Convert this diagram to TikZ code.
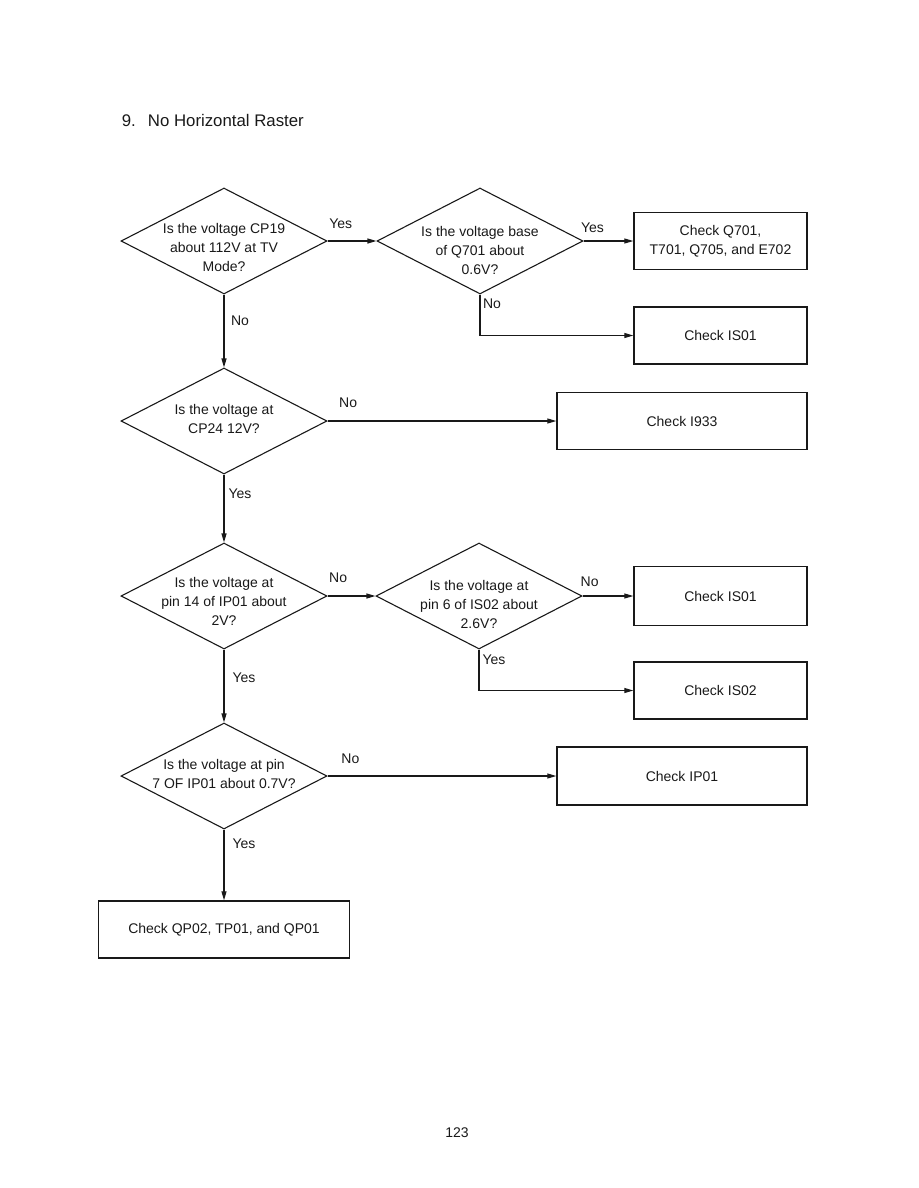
\documentclass[tikz,border=0pt]{standalone}
\usepackage{fontspec}
\setmainfont{Liberation Sans}
\usetikzlibrary{positioning,arrows.meta,shapes.geometric,calc}
\definecolor{inkgray}{RGB}{25,25,25}

\begin{document}
\begin{tikzpicture}[x=1pt,y=-1pt,line width=1.1pt,draw=inkgray,text=inkgray,
    font=\fontsize{14}{19}\selectfont,
    decision/.style={draw,diamond,inner sep=0pt,minimum width=206pt,minimum height=106pt},
    qtext/.style={align=center,text=inkgray},
    checkbox/.style={draw,rectangle,line width=1.4pt,inner sep=0pt,minimum height=57pt,align=center},
    flow/.style={-{Triangle[length=9pt,width=5pt]}},
    ans/.style={font=\fontsize{14}{16}\selectfont}]
\useasboundingbox (0,0) rectangle (918,1188);

\node[anchor=base west,font=\fontsize{16.8}{19}\selectfont] (title) at (118,127)
    {9.\hspace{12pt}No Horizontal Raster};

% questions
\node[decision,label={[qtext,yshift=-6pt]center:{Is the voltage CP19\\about 112V at TV\\Mode?}}] (d1) at (224,241) {};
\node[decision,label={[qtext,yshift=-9pt]center:{Is the voltage base\\of Q701 about\\0.6V?}}] (d2) at (480,241) {};
\node[decision,label={[qtext,yshift=2.5pt]center:{Is the voltage at\\CP24 12V?}}] (d3) at (224,421) {};
\node[decision,label={[qtext,yshift=-5pt]center:{Is the voltage at\\pin 14 of IP01 about\\2V?}}] (d4) at (224,596) {};
\node[decision,label={[qtext,yshift=-8pt]center:{Is the voltage at\\pin 6 of IS02 about\\2.6V?}}] (d5) at (479,596) {};
\node[decision,label={[qtext,yshift=2.5pt]center:{Is the voltage at pin\\7 OF IP01 about 0.7V?}}] (d6) at (224,776) {};

% checks
\node[checkbox,minimum width=173pt] (ca) at (720.5,241) {Check Q701,\\T701, Q705, and E702};
\node[checkbox,minimum width=173pt] (cb) at (720.5,335.5) {Check IS01};
\node[checkbox,minimum width=250pt] (cc) at (682,421) {Check I933};
\node[checkbox,minimum width=173pt,minimum height=59pt] (cd) at (720.5,596) {Check IS01};
\node[checkbox,minimum width=173pt] (ce) at (720.5,690.5) {Check IS02};
\node[checkbox,minimum width=250pt,minimum height=58pt] (cf) at (682,776) {Check IP01};
\node[checkbox,minimum width=251pt] (cg) at (224,929.5) {Check QP02, TP01, and QP01};

% flow
\draw[flow] (d1.east) -- node[ans,pos=0.27,yshift=17pt] {Yes} (d2.west);
\draw[flow] (d2.east) -- node[ans,pos=0.18,yshift=13pt] {Yes} (ca.west);
\draw[flow] (d2.south) |- node[ans,pos=0.115,xshift=12pt] {No} (cb.west);
\draw[flow] (d1.south) -- node[ans,pos=0.36,xshift=16pt] {No} (d3.north);
\draw[flow] (d3.east) -- node[ans,pos=0.09,yshift=18pt] {No} (cc.west);
\draw[flow] (d3.south) -- node[ans,pos=0.28,xshift=16pt] {Yes} (d4.north);
\draw[flow] (d4.east) -- node[ans,pos=0.22,yshift=18pt] {No} (d5.west);
\draw[flow] (d5.east) -- node[ans,pos=0.14,yshift=14pt] {No} (cd.west);
\draw[flow] (d5.south) |- node[ans,pos=0.13,xshift=15pt] {Yes} (ce.west);
\draw[flow] (d4.south) -- node[ans,pos=0.38,xshift=20pt] {Yes} (d6.north);
\draw[flow] (d6.east) -- node[ans,pos=0.1,yshift=17pt] {No} (cf.west);
\draw[flow] (d6.south) -- node[ans,pos=0.2,xshift=20pt] {Yes} (cg.north);

\node (pageno) at (457,1133) {123};
\end{tikzpicture}
\end{document}
